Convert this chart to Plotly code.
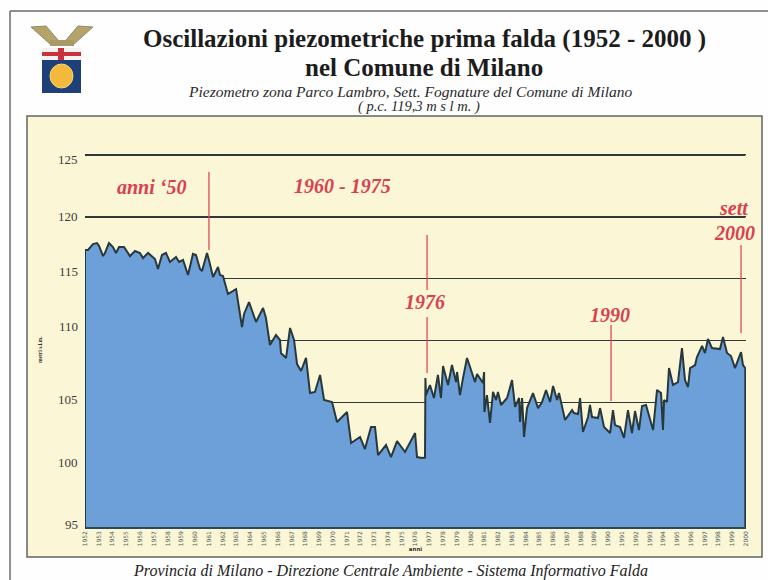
import plotly.graph_objects as go

years = [1952.00,1952.22,1952.58,1952.87,1953.02,1953.31,1953.45,1953.74,1954.03,1954.25,1954.47,1954.83,1955.27,1955.63,1955.99,1956.21,1956.58,1957.08,1957.30,1957.59,1957.88,1958.17,1958.61,1958.83,1959.12,1959.48,1959.84,1960.06,1960.35,1960.50,1960.86,1961.00,1961.30,1961.66,1961.80,1962.02,1962.38,1962.97,1963.11,1963.40,1963.55,1963.91,1964.42,1964.93,1965.14,1965.43,1965.87,1966.16,1966.23,1966.60,1966.89,1967.18,1967.40,1967.69,1968.05,1968.19,1968.34,1968.70,1969.07,1969.36,1969.94,1970.30,1971.03,1971.32,1971.97,1972.33,1972.77,1973.06,1973.28,1973.86,1974.22,1974.66,1975.24,1975.97,1976.11,1976.47,1976.69,1976.72,1976.76,1977.05,1977.34,1977.63,1977.85,1978.00,1978.36,1978.65,1978.94,1979.02,1979.23,1979.45,1979.74,1979.96,1980.32,1980.47,1980.90,1980.98,1981.00,1981.19,1981.41,1981.63,1981.85,1981.99,1982.21,1982.65,1983.01,1983.23,1983.52,1983.59,1983.74,1983.88,1984.10,1984.53,1984.90,1985.19,1985.48,1985.77,1985.99,1986.28,1986.42,1986.86,1987.00,1987.37,1987.51,1987.80,1987.95,1988.16,1988.53,1988.67,1988.82,1989.25,1989.40,1989.69,1990.13,1990.34,1990.49,1990.85,1991.14,1991.43,1991.72,1991.94,1992.23,1992.45,1992.74,1993.25,1993.54,1993.83,1993.97,1994.05,1994.26,1994.41,1994.70,1995.06,1995.35,1995.57,1995.79,1995.94,1996.30,1996.44,1996.81,1997.02,1997.24,1997.53,1998.11,1998.33,1998.62,1998.91,1999.20,1999.64,1999.78,1999.95]
levels = [117.34,117.34,117.82,117.90,117.66,116.85,117.10,117.90,117.58,117.10,117.58,117.58,116.85,117.26,117.10,116.69,117.10,116.61,115.81,116.93,117.10,116.37,116.77,116.37,116.53,115.32,117.02,116.93,115.81,115.64,117.10,116.53,115.16,115.97,115.32,115.24,113.79,114.19,113.31,111.13,112.18,113.14,111.53,112.66,111.85,109.68,110.48,110.08,109.03,108.63,111.05,110.08,108.14,107.58,108.63,107.42,105.80,105.89,107.26,105.24,105.08,103.47,104.27,101.77,102.26,101.29,103.06,103.06,100.80,101.61,100.64,101.93,101.05,102.58,100.64,100.56,100.60,107.01,105.64,106.45,105.40,107.26,105.40,107.98,106.45,108.06,106.69,107.50,105.64,107.01,108.63,107.90,106.69,107.34,106.61,107.50,104.27,105.64,103.39,105.89,105.24,105.89,104.84,105.40,106.85,104.68,105.40,103.47,105.40,102.26,104.59,105.80,104.59,105.08,106.05,105.08,106.37,105.24,105.80,103.63,103.87,104.43,104.19,104.11,105.40,102.66,103.87,104.84,103.87,103.79,104.59,103.06,102.58,104.43,103.22,103.06,102.18,104.43,102.58,104.35,102.82,104.76,104.84,102.82,106.05,105.81,102.82,105.24,105.08,107.82,106.45,106.69,109.43,106.85,106.29,107.82,108.06,108.71,109.60,109.03,110.16,109.43,109.35,110.32,109.03,108.79,107.82,109.11,108.06,107.80]
base_level = 95
y_ticks = [125, 120, 115, 110, 105, 100, 95]
y_label_shift = [-5, 0, 7, 14, 3, 3, 3]
x_ticks = list(range(1952, 2001))
heavy_levels = [125, 120]
marker_years = [1961.0, 1976.84, 1976.84, 1990.2, 1999.64]
marker_from = [123.63, 118.55, 111.93, 111.29, 117.74]
marker_to = [117.34, 114.11, 107.42, 105.16, 110.64]

L, R, T, B = 85, 746, 153, 527
W, H = 768, 580
def px(x): return (x - L) / (R - L)
def py(y): return (B - y) / (B - T)

SERIF = "Liberation Serif"
RED = "#d8414f"
DARK = "#2e3a38"

fig = go.Figure()
fig.add_trace(go.Scatter(
    x=[years[0]] + years + [years[-1]],
    y=[base_level] + levels + [base_level],
    mode="lines", fill="toself", fillcolor="#6d9fd8",
    line=dict(color="#27393c", width=2),
    showlegend=False, hoverinfo="skip"))

shapes = []
def rect(x0, y0, x1, y1, fill, line=None, w=0, layer="below"):
    shapes.append(dict(type="rect", xref="paper", yref="paper", x0=px(x0), x1=px(x1),
                       y0=py(y0), y1=py(y1), fillcolor=fill, layer=layer,
                       line=dict(color=line or fill, width=w)))
def seg(x0, y0, x1, y1, col, w):
    shapes.append(dict(type="line", xref="paper", yref="paper", x0=px(x0), x1=px(x1),
                       y0=py(y0), y1=py(y1), layer="below", line=dict(color=col, width=w)))

# page frame and panel
seg(10, 11, 768, 11, "#6b6b6b", 1.5)
seg(10, 11, 10, 580, "#6b6b6b", 1.5)
rect(27, 116, 762, 557, "#fbf6d6", "#5f6664", 1.5)

# emblem
rect(42, 48, 81, 60, "#f4f2ee")
rect(42, 52, 81, 56, "#c8323c")
rect(58, 48, 64, 60, "#c8323c")
rect(42, 60, 81, 93, "#1f3f78")
shapes.append(dict(type="circle", xref="paper", yref="paper", x0=px(50), x1=px(73), y0=py(64), y1=py(88),
                   fillcolor="#f2b93a", line=dict(color="#f2d67a", width=1), layer="below"))
shapes.append(dict(type="path", xref="paper", yref="paper", layer="below",
                   path=f"M {px(31)} {py(27)} L {px(46)} {py(26)} L {px(58)} {py(40)} L {px(50)} {py(44)} Z",
                   fillcolor="#b5a46a", line=dict(color="#8f8a70", width=1)))
shapes.append(dict(type="path", xref="paper", yref="paper", layer="below",
                   path=f"M {px(93)} {py(27)} L {px(78)} {py(26)} L {px(66)} {py(40)} L {px(74)} {py(44)} Z",
                   fillcolor="#b5a46a", line=dict(color="#8f8a70", width=1)))
rect(50, 40, 74, 46, "#a89a68")

# heavier reference levels
for v in heavy_levels:
    shapes.append(dict(type="line", xref="x", yref="y", x0=years[0], x1=years[-1], y0=v, y1=v,
                       layer="below", line=dict(color=DARK, width=2)))

# red markers
for mx, a, b in zip(marker_years, marker_from, marker_to):
    shapes.append(dict(type="line", xref="x", yref="y", x0=mx, x1=mx, y0=a, y1=b,
                       layer="above", line=dict(color="#dc4a5a", width=1.3)))

ann = []
def text(s, x, y, size, color="#1c1c1c", bold=False, italic=False, anchor="center", angle=0, font=SERIF):
    t = s
    if bold: t = f"<b>{t}</b>"
    if italic: t = f"<i>{t}</i>"
    ann.append(dict(text=t, x=px(x), y=py(y), xref="paper", yref="paper", showarrow=False,
                    xanchor=anchor, yanchor="middle", textangle=angle,
                    font=dict(family=font, size=size, color=color)))

text("Oscillazioni piezometriche prima falda (1952 - 2000 )", 424, 39, 25, bold=True)
text("nel Comune di Milano", 424, 68, 25, bold=True)
text("Piezometro zona Parco Lambro, Sett. Fognature del Comune di Milano", 410, 91, 15.5, "#2a2a2a", italic=True)
text("( p.c. 119,3 m s l m. )", 419, 107, 14.5, "#2a2a2a", italic=True)
text("anni ‘50", 151, 187, 20, RED, True, True)
text("1960 - 1975", 342, 186, 20, RED, True, True)
text("1976", 425, 302, 20, RED, True, True)
text("1990", 610, 315, 20, RED, True, True)
text("sett", 734, 208, 20, RED, True, True)
text("2000", 734, 233, 20, RED, True, True)
text("Provincia di Milano - Direzione Centrale Ambiente - Sistema Informativo Falda", 390, 571, 16, "#222222", italic=True)
text("metri s.l.m.", 40, 350, 5.5, "#333333", True, angle=-90)

for v, shift in zip(y_ticks, y_label_shift):
    ann.append(dict(text=str(v), x=px(80), xref="paper", y=v, yref="y", yshift=shift, showarrow=False,
                    xanchor="right", yanchor="middle",
                    font=dict(family=SERIF, size=13, color="#3c3c3c")))

fig.update_layout(
    width=W, height=H, autosize=False,
    margin=dict(l=L, r=W - R, t=T, b=H - B),
    paper_bgcolor="#fefefe", plot_bgcolor="#fbf6d6",
    shapes=shapes, annotations=ann, showlegend=False,
    xaxis=dict(range=[1952, 2000], tickmode="array", tickvals=x_ticks, ticktext=[str(y) for y in x_ticks],
               tickangle=-90, tickfont=dict(family="DejaVu Sans", size=6, color="#4a5a5a"),
               showgrid=False, zeroline=False, showline=True, linecolor="#2c4a50", linewidth=1.5,
               ticks="", title=dict(text="<b>anni</b>", font=dict(family="DejaVu Sans", size=5.5, color="#333"), standoff=2)),
    yaxis=dict(range=[95, 125.16], tickmode="array", tickvals=y_ticks, showticklabels=False,
               showgrid=True, gridcolor=DARK, gridwidth=1.2, zeroline=False, showline=False, ticks=""),
)
fig.write_html("out.html", config=dict(displayModeBar=False),
               post_script="document.body.style.margin='0';document.body.style.overflow='hidden';")
